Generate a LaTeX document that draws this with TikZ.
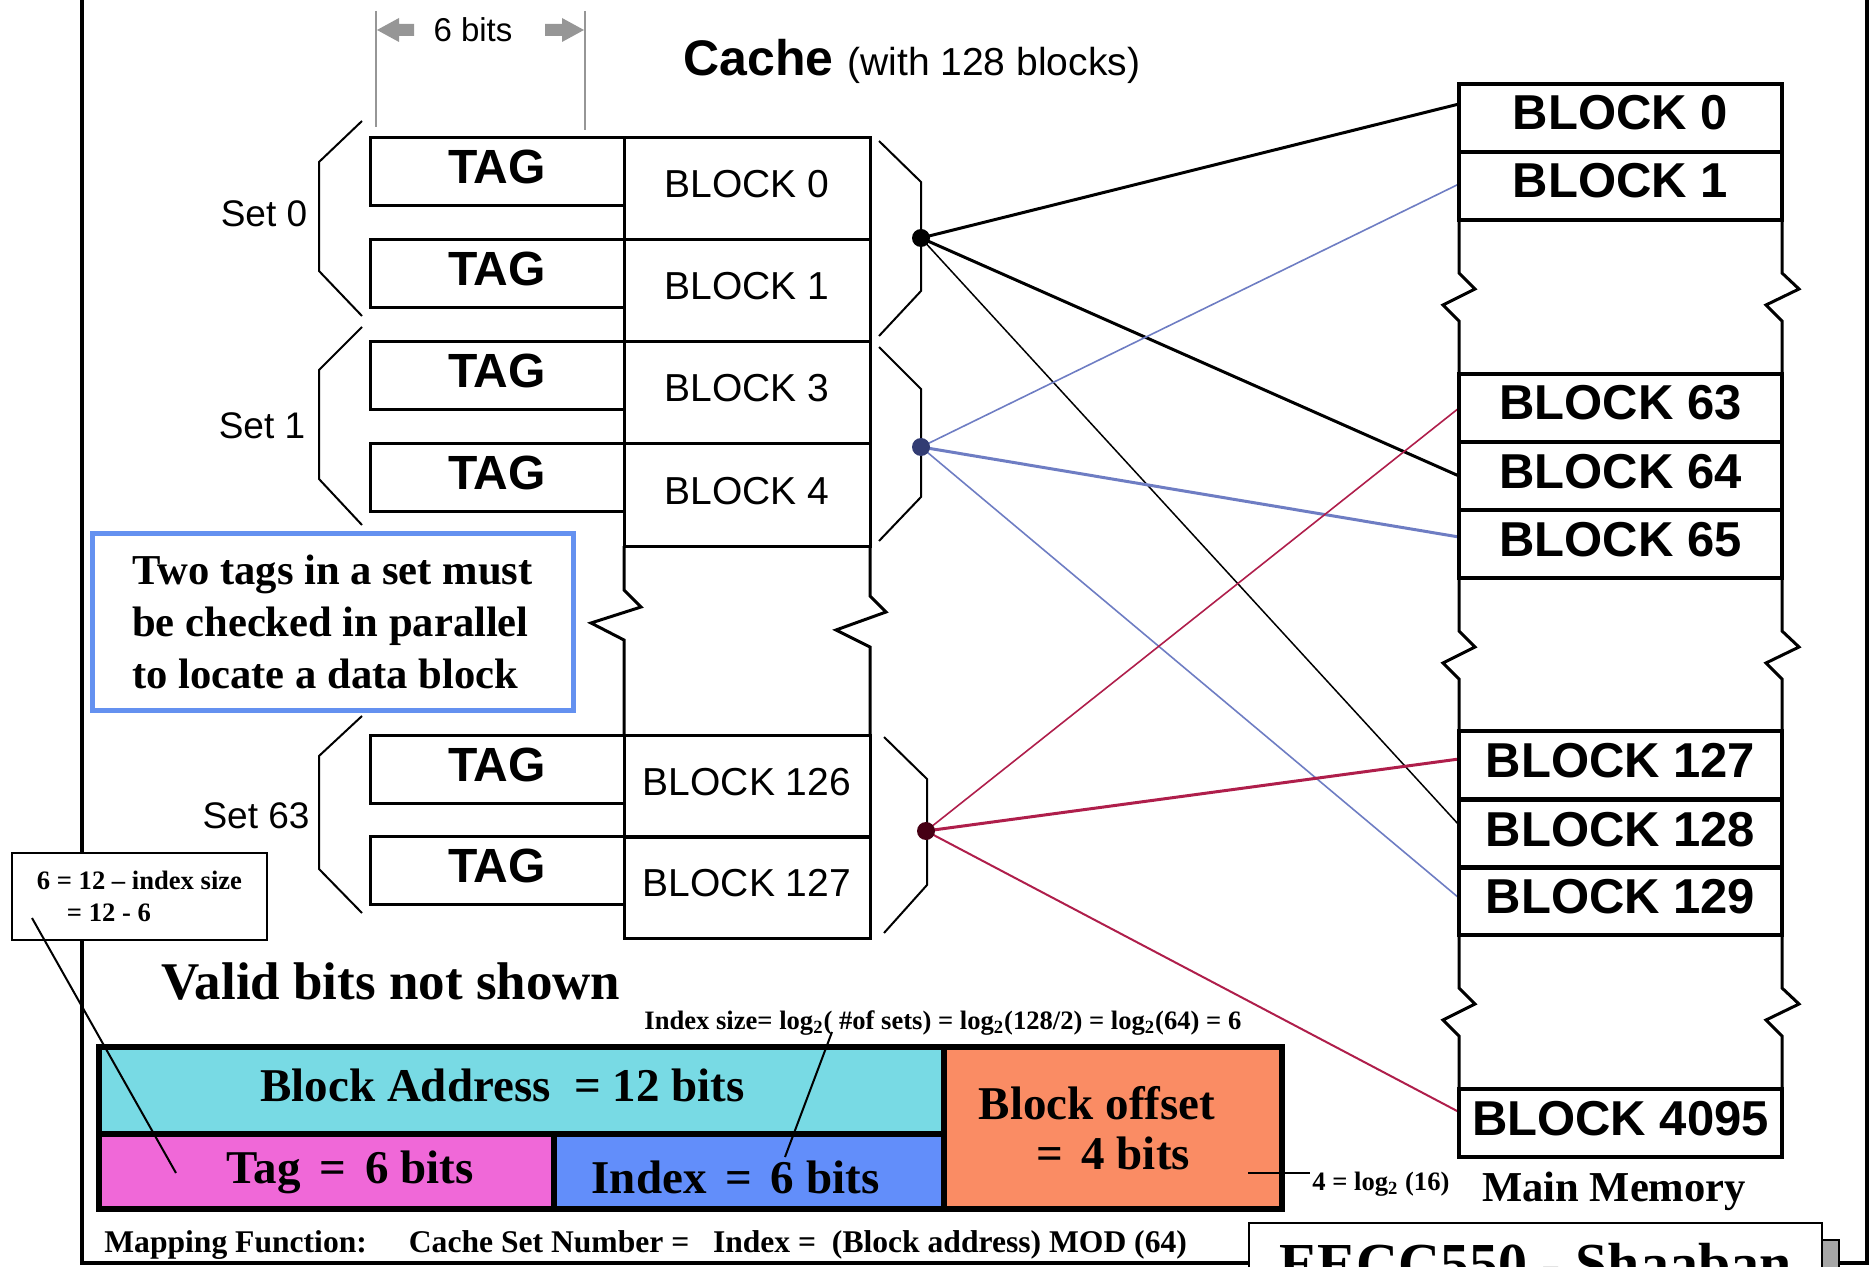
\documentclass[tikz,border=0pt]{standalone}
\usepackage{fontspec}
\setmainfont{Liberation Serif}
\newfontfamily\arialfont{Liberation Sans}
\usetikzlibrary{calc}

\definecolor{cyanbox}{RGB}{120,218,228}
\definecolor{pinkbox}{RGB}{240,104,216}
\definecolor{indexbox}{RGB}{98,142,250}
\definecolor{offsetbox}{RGB}{250,140,100}
\definecolor{noteblue}{RGB}{100,145,240}
\definecolor{linkblue}{RGB}{110,125,195}
\definecolor{linkred}{RGB}{175,30,75}
\definecolor{hubblue}{RGB}{50,60,115}
\definecolor{hubred}{RGB}{70,0,20}
\definecolor{dimgray}{RGB}{150,150,150}

\pgfdeclarelayer{background}
\pgfsetlayers{background,main}

\tikzset{
  frameline/.style={line width=2pt},
  dimline/.style={draw=dimgray, line width=0.6pt},
  tagbox/.style={draw, line width=1.5pt, outer sep=0pt, inner sep=0pt,
    minimum width=127pt, minimum height=34pt, text height=12pt, text depth=0pt,
    font=\arialfont\bfseries\fontsize{24}{26}\selectfont},
  cacheblk/.style={draw, line width=1.5pt, outer sep=0pt, inner sep=0pt,
    minimum width=123pt, minimum height=51pt, text height=9pt, text depth=0pt,
    font=\arialfont\fontsize{19.5}{22}\selectfont},
  memblk/.style={draw, line width=1.6pt, outer sep=0pt, inner sep=0pt,
    minimum width=161.5pt, minimum height=34pt, text height=12pt, text depth=0pt,
    font=\arialfont\bfseries\fontsize{24.5}{26}\selectfont},
  colside/.style={line width=1.5pt, line join=miter},
  bracket/.style={line width=1pt},
  setlabel/.style={anchor=base, inner sep=0pt, font=\arialfont\fontsize{18.5}{20}\selectfont},
  hub/.style={circle, draw=none, minimum size=9pt, inner sep=0pt},
  link/.style={line cap=round},
  field/.style={draw, line width=2.75pt, anchor=north west, outer sep=0pt, inner sep=0pt,
    font=\bfseries\fontsize{23.5}{25}\selectfont},
  remark/.style={inner sep=0pt, font=\bfseries\fontsize{13.3}{15}\selectfont},
}

\begin{document}
\begin{tikzpicture}[x=0.5pt,y=-0.5pt]
\useasboundingbox (0,0) rectangle (1869,1267);

% slide frame
\draw[frameline] (82,0) -- (82,1263) -- (1867,1263) -- (1867,0);

% tag width marker
\draw[dimline] (376,11) -- (376,127);
\draw[dimline] (585,11) -- (585,130);
\fill[dimgray] (377,30) -- (399,18) -- (399,24) -- (414,24) -- (414,36) -- (399,36) -- (399,42) -- cycle;
\fill[dimgray] (584,30) -- (562,18) -- (562,24) -- (545,24) -- (545,36) -- (562,36) -- (562,42) -- cycle;
\node[anchor=base, inner sep=0pt, font=\arialfont\fontsize{16.5}{18}\selectfont] (tagwidth) at (473,42) {6 bits};

% cache heading
\node[anchor=base west, inner sep=0pt, font=\arialfont] (cachehead) at (683,76)
  {{\bfseries\fontsize{25}{28}\selectfont Cache}\hspace{7pt}{\fontsize{19.5}{22}\selectfont(with 128 blocks)}};

% cache tag boxes
\node[tagbox] (t0) at (497,172) {TAG};
\node[tagbox] (t1) at (497,274) {TAG};
\node[tagbox] (t3) at (497,376) {TAG};
\node[tagbox] (t4) at (497,478) {TAG};
\node[tagbox] (t126) at (497,769) {TAG};
\node[tagbox] (t127) at (497,870) {TAG};

% cache data blocks
\node[cacheblk] (c0) at (747,189) {BLOCK 0};
\node[cacheblk] (c1) at (747,291) {BLOCK 1};
\node[cacheblk] (c3) at (747,393) {BLOCK 3};
\node[cacheblk] (c4) at (747,495) {BLOCK 4};
\node[cacheblk] (c126) at (747,786) {BLOCK 126};
\node[cacheblk] (c127) at (747,887) {BLOCK 127};

% torn part of the cache column
\draw[colside] (c4.south west) -- ++(0,44) -- ++(17,17) -- ++(-50,16) -- ++(33,17) -- (c126.north west);
\draw[colside] (c4.south east) -- ++(0,50) -- ++(16,16) -- ++(-50,18) -- ++(34,17) -- (c126.north east);

% set brackets
\draw[bracket] (362,121) -- (319,162) -- (319,271) -- (362,316);
\draw[bracket] (362,327) -- (319,370) -- (319,479) -- (362,525);
\draw[bracket] (362,716) -- (319,756) -- (319,869) -- (362,913);
\draw[bracket] (879,141) -- (921,182) -- (921,291) -- (879,336);
\draw[bracket] (879,347) -- (921,389) -- (921,497) -- (879,541);
\draw[bracket] (884,737) -- (927,779) -- (927,885) -- (884,933);

\node[setlabel] (s0) at (264,227) {Set 0};
\node[setlabel] (s1) at (262,439) {Set 1};
\node[setlabel] (s63) at (256,828) {Set 63};

% set hubs
\node[hub, fill=black] (d0) at (921,238) {};
\node[hub, fill=hubblue] (d1) at (921,447) {};
\node[hub, fill=hubred] (d63) at (926,831) {};

% main memory blocks
\node[memblk] (m0) at (1620.5,118) {BLOCK 0};
\node[memblk] (m1) at (1620.5,186) {BLOCK 1};
\node[memblk] (m63) at (1620.5,408) {BLOCK 63};
\node[memblk] (m64) at (1620.5,476) {BLOCK 64};
\node[memblk] (m65) at (1620.5,544) {BLOCK 65};
\node[memblk] (m127) at (1620.5,765) {BLOCK 127};
\node[memblk] (m128) at (1620.5,834) {BLOCK 128};
\node[memblk] (m129) at (1620.5,901) {BLOCK 129};
\node[memblk] (m4095) at (1620.5,1123) {BLOCK 4095};

% torn parts of the memory column
\foreach \a/\b in {m1/m63, m65/m127, m129/m4095} {
  \draw[colside] (\a.south west) -- ++(0,53) -- ++(16,16) -- ++(-32,16) -- ++(16,16) -- (\b.north west);
  \draw[colside] (\a.south east) -- ++(0,53) -- ++(17,16) -- ++(-33,16) -- ++(16,16) -- (\b.north east);
}

\node[anchor=base, inner sep=0pt, font=\bfseries\fontsize{21.3}{24}\selectfont] (mmlabel) at (1614,1201) {Main Memory};

% mapping connectors
\begin{pgfonlayer}{background}
\draw[link, black, line width=1.5pt] (d0.center) -- ($(m0.west)+(0,-14)$);
\draw[link, black, line width=1.5pt] (d0.center) -- (m64.west);
\draw[link, black, line width=0.75pt] (d0.center) -- ($(m128.west)+(0,-9)$);
\draw[link, linkblue, line width=0.8pt] (d1.center) -- ($(m1.west)+(0,-2)$);
\draw[link, linkblue, line width=1.5pt] (d1.center) -- ($(m65.west)+(0,-7)$);
\draw[link, linkblue, line width=0.8pt] (d1.center) -- ($(m129.west)+(0,-3)$);
\draw[link, linkred, line width=0.8pt] (d63.center) -- (m63.west);
\draw[link, linkred, line width=1.5pt] (d63.center) -- ($(m127.west)+(0,-6)$);
\draw[link, linkred, line width=1pt] (d63.center) -- ($(m4095.west)+(0,-11)$);
\end{pgfonlayer}

% remark boxes
\node[draw=noteblue, line width=2.5pt, fill=white, inner sep=0pt, minimum width=240.5pt, minimum height=88.5pt,
  align=left, font=\bfseries\fontsize{21.3}{26}\selectfont] (parallel) at (332.5,621.5)
  {Two tags in a set must\\be checked in parallel\\to locate a data block};

\node[draw, line width=1.2pt, fill=white, inner sep=0pt, minimum width=127.5pt, minimum height=43.5pt,
  align=left, font=\bfseries\fontsize{13.3}{16}\selectfont] (tagcalc) at (139.5,896.5)
  {6 = 12 – index size\\\hspace*{15pt}= 12 - 6};

\node[anchor=base west, inner sep=0pt, font=\bfseries\fontsize{26.5}{30}\selectfont] (valid) at (161,999) {Valid bits not shown};

% address fields
\node[field, fill=cyanbox, minimum width=422.5pt, minimum height=43.5pt, text height=10.5pt, text depth=0pt]
  (ba) at (99,1047) {Block Address\ \ = 12 bits\hspace*{19pt}};
\node[field, fill=pinkbox, minimum width=227.5pt, minimum height=37.5pt, text height=11.5pt, text depth=0pt]
  (tg) at (99,1134) {\hspace*{23.5pt}Tag\hspace{0.4em}=\hspace{0.4em}6 bits};
\node[field, fill=indexbox, minimum width=195pt, minimum height=37.5pt, text height=21.5pt, text depth=0pt]
  (ix) at (554,1134) {Index\hspace{0.4em}=\hspace{0.4em}6 bits\hspace*{13.5pt}};
\node[field, fill=offsetbox, minimum width=169pt, minimum height=81pt, align=center]
  (bo) at (944,1047) {Block offset\hspace*{16pt}\\[0pt]=\hspace{0.4em}4 bits};

\node[remark, anchor=base west] (idxsize) at (644,1029)
  {Index size= log\textsubscript{2}( \#of sets) = log\textsubscript{2}(128/2) = log\textsubscript{2}(64) = 6};
\node[remark, anchor=base west] (offlog) at (1312,1190) {4 = log\textsubscript{2} (16)};

% pointer lines
\coordinate (calcfoot) at (32,918);
\coordinate (tagtip) at (176,1173);
\coordinate (idxfoot) at (832,1032);
\coordinate (idxtip) at (785,1157);
\coordinate (offtip) at (1248,1173);
\coordinate (offfoot) at (1310,1173);
\draw[line width=1pt] (calcfoot) -- (tagtip);
\draw[line width=1pt] (idxfoot) -- (idxtip);
\draw[line width=1.2pt] (offtip) -- (offfoot);

\node[anchor=base west, inner sep=0pt, font=\bfseries\fontsize{15.8}{18}\selectfont] (mapping) at (104,1252)
  {Mapping Function:\hspace*{21pt}Cache Set Number\ =\ \ \ Index =\ \ (Block address) MOD (64)};

% course footer
\draw[line width=1.2pt, fill=gray!70] (1265,1240) rectangle (1839,1340);
\node[draw, line width=1.2pt, fill=white, anchor=north west, inner sep=0pt, outer sep=0pt,
  minimum width=286.5pt, minimum height=60pt, text height=0pt, text depth=0pt,
  font=\bfseries\fontsize{29}{32}\selectfont] (footer) at (1249,1223) {EECC550 - Shaaban};
\end{tikzpicture}
\end{document}
